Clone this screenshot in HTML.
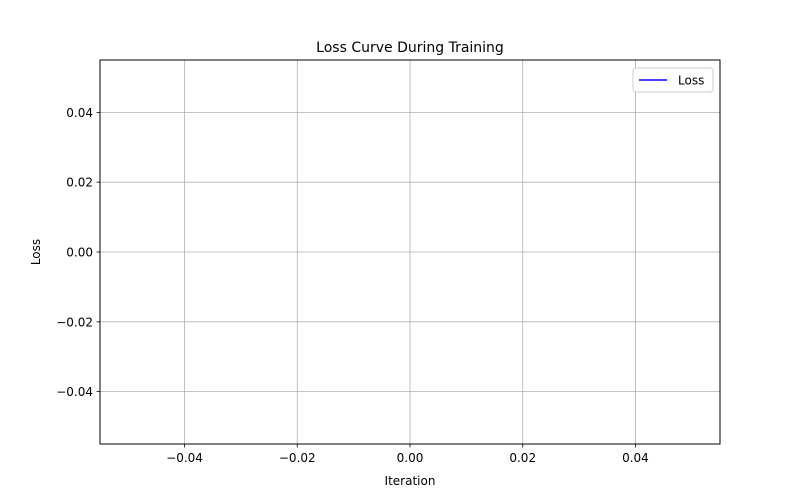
<!DOCTYPE html>
<html>
<head>
<meta charset="utf-8">
<style>
  html,body{margin:0;padding:0;background:#fff;}
  svg{display:block;font-family:"DejaVu Sans","Liberation Sans",sans-serif;}
</style>
</head>
<body>
<svg id="chart" width="800" height="500" viewBox="0 0 800 500">
  <rect x="0" y="0" width="800" height="500" fill="#fff"/>
  <g id="grid"></g>
  <g id="series"></g>
  <rect x="100" y="60" width="620" height="384" fill="none" stroke="#000" stroke-width="1"/>
  <g id="xticks"></g>
  <g id="yticks"></g>
  <text x="410" y="52" text-anchor="middle" font-size="14" fill="#000">Loss Curve During Training</text>
  <text x="410" y="485" text-anchor="middle" font-size="12" fill="#000">Iteration</text>
  <text x="40" y="252" text-anchor="middle" font-size="12" fill="#000" transform="rotate(-90 40 252)">Loss</text>
  <g>
    <rect x="633" y="68" width="80" height="24" rx="3" fill="#fff" stroke="#ccc"/>
    <line x1="639" y1="80" x2="667" y2="80" stroke="#0000ff" stroke-width="1.5"/>
    <text x="678" y="84.5" font-size="12" fill="#000">Loss</text>
  </g>
</svg>
<script>
const iterations = [];
const lossValues = [];
const xTickValues = [-0.04, -0.02, 0.00, 0.02, 0.04];
const xTickLabels = ["\u22120.04", "\u22120.02", "0.00", "0.02", "0.04"];
const yTickValues = [-0.04, -0.02, 0.00, 0.02, 0.04];
const yTickLabels = ["\u22120.04", "\u22120.02", "0.00", "0.02", "0.04"];

const NS = "http://www.w3.org/2000/svg";
const L = 100, R = 720, T = 60, B = 444;
const xMin = -0.055, xMax = 0.055, yMin = -0.055, yMax = 0.055;
function xScale(v){ return L + (v - xMin) / (xMax - xMin) * (R - L); }
function yScale(v){ return B - (v - yMin) / (yMax - yMin) * (B - T); }
function mk(tag, attrs){ const e = document.createElementNS(NS, tag); for (const k in attrs) e.setAttribute(k, attrs[k]); return e; }

const grid = document.getElementById('grid');
const xg = document.getElementById('xticks');
const yg = document.getElementById('yticks');

xTickValues.forEach((v, i) => {
  const x = xScale(v);
  const gl = mk('line', {x1:x, y1:T, x2:x, y2:B, stroke:'#b0b0b0', 'stroke-width':0.8});
  
  
  grid.appendChild(gl);
  const tk = mk('line', {x1:x, y1:B, x2:x, y2:B+3.5, stroke:'#000', 'stroke-width':0.8});
  
  
  xg.appendChild(tk);
  const t = mk('text', {x:x, y:B+18, 'text-anchor':'middle', 'font-size':12, fill:'#000'});
  t.textContent = xTickLabels[i];
  
  
  xg.appendChild(t);
});

yTickValues.forEach((v, i) => {
  const y = yScale(v);
  const gl = mk('line', {x1:L, y1:y, x2:R, y2:y, stroke:'#b0b0b0', 'stroke-width':0.8});
  
  
  grid.appendChild(gl);
  const tk = mk('line', {x1:L-3.5, y1:y, x2:L, y2:y, stroke:'#000', 'stroke-width':0.8});
  
  
  yg.appendChild(tk);
  const t = mk('text', {x:L-7, y:y+4.5, 'text-anchor':'end', 'font-size':12, fill:'#000'});
  t.textContent = yTickLabels[i];
  
  
  yg.appendChild(t);
});

if (lossValues.length) {
  const pts = lossValues.map((v, i) => xScale(iterations[i] !== undefined ? iterations[i] : i) + ',' + yScale(v)).join(' ');
  const pl = mk('polyline', {points:pts, fill:'none', stroke:'#0000ff', 'stroke-width':1.5});
  
  
  document.getElementById('series').appendChild(pl);
}
</script>
</body>
</html>
